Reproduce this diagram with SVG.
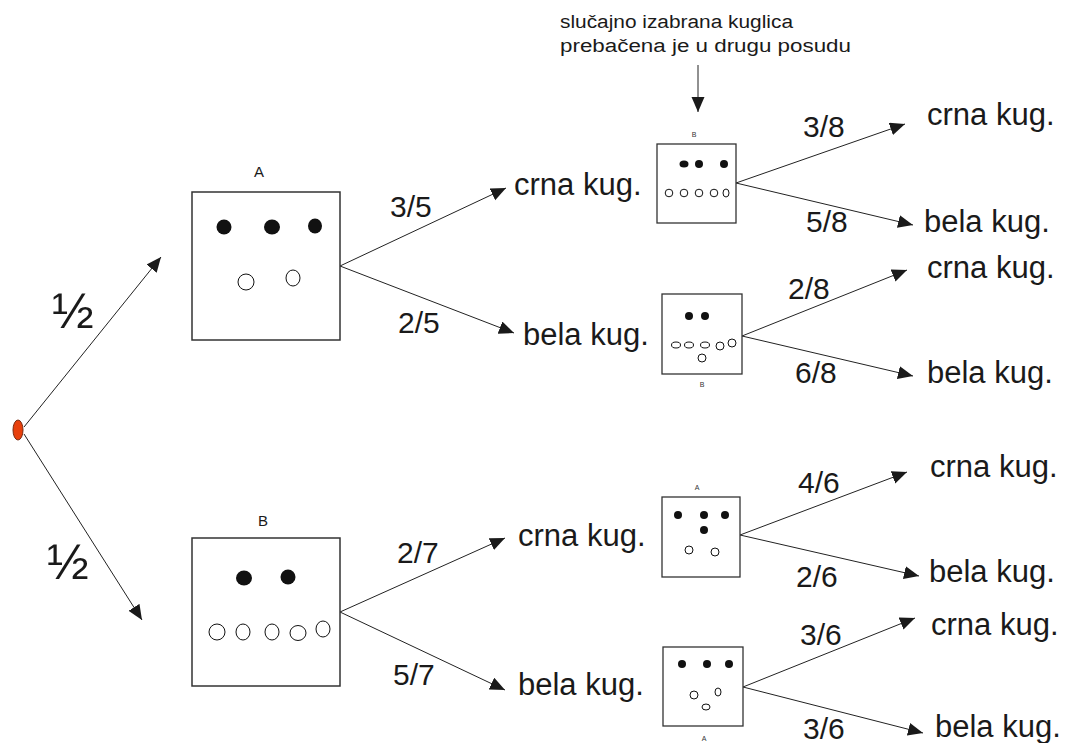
<svg xmlns="http://www.w3.org/2000/svg" width="1065" height="743" viewBox="0 0 1065 743">
<style>
text{font-family:"Liberation Sans",Arial,sans-serif;fill:#1a1a1a}
.lbl{font-size:31px}
.fr{font-size:30px}
.big{fill:none;stroke:#333;stroke-width:1.5}
.sm{fill:none;stroke:#333;stroke-width:1.3}
.blk{fill:#111}
.wht{fill:#fff;stroke:#111;stroke-width:1}
.edge{stroke:#222;stroke-width:1;fill:none;marker-end:url(#ah)}
.bl{font-size:15px}
.sl{font-size:7px;fill:#333}
.note{font-size:18px}
</style>
<defs>
<marker id="ah" markerUnits="userSpaceOnUse" markerWidth="16" markerHeight="14" refX="15" refY="6.5" orient="auto">
<path d="M0,0 L15,6.5 L0,13 Z" fill="#1a1a1a"/>
</marker>
</defs>

<g id="connectors">
<line class="edge" x1="24" y1="427" x2="161" y2="257"/>
<line class="edge" x1="24" y1="434" x2="142" y2="620"/>
<line class="edge" x1="340" y1="266" x2="506" y2="188"/>
<line class="edge" x1="340" y1="266" x2="514" y2="333"/>
<line class="edge" x1="340" y1="612" x2="505" y2="538"/>
<line class="edge" x1="340" y1="612" x2="505" y2="690"/>
<line class="edge" x1="736" y1="183" x2="905" y2="124"/>
<line class="edge" x1="736" y1="183" x2="913" y2="225"/>
<line class="edge" x1="742" y1="336" x2="907" y2="270"/>
<line class="edge" x1="742" y1="336" x2="913" y2="376"/>
<line class="edge" x1="740" y1="535" x2="907" y2="472"/>
<line class="edge" x1="740" y1="535" x2="919" y2="576"/>
<line class="edge" x1="743" y1="687" x2="915" y2="618"/>
<line class="edge" x1="743" y1="687" x2="923" y2="733"/>
<line class="edge" x1="698" y1="65" x2="698" y2="112"/>
</g>

<g id="start">
<ellipse cx="18" cy="430" rx="5" ry="10" fill="#e8400c" stroke="#7a2a10" stroke-width="1"/>
</g>

<g id="prob-labels">
<text x="52" y="328" style="font-size:50px">½</text>
<text x="47" y="579" style="font-size:50px">½</text>
<text class="fr" x="390" y="217">3/5</text>
<text class="fr" x="398" y="333">2/5</text>
<text class="fr" x="397" y="563">2/7</text>
<text class="fr" x="393" y="685">5/7</text>
<text class="fr" x="803" y="137">3/8</text>
<text class="fr" x="806" y="232">5/8</text>
<text class="fr" x="788" y="299">2/8</text>
<text class="fr" x="795" y="383">6/8</text>
<text class="fr" x="798" y="493">4/6</text>
<text class="fr" x="796" y="587">2/6</text>
<text class="fr" x="800" y="645">3/6</text>
<text class="fr" x="803" y="739">3/6</text>
</g>

<g id="note">
<text class="note" x="560" y="28" textLength="233" lengthAdjust="spacingAndGlyphs">slučajno izabrana kuglica</text>
<text class="note" x="560" y="52" textLength="291" lengthAdjust="spacingAndGlyphs">prebačena je u drugu posudu</text>
</g>

<g id="boxA">
<text class="bl" x="259" y="177" text-anchor="middle">A</text>
<rect class="big" x="192" y="192" width="148" height="148"/>
<ellipse class="blk" cx="224" cy="227" rx="7.5" ry="7.5"/>
<ellipse class="blk" cx="272" cy="227" rx="8" ry="7.5"/>
<ellipse class="blk" cx="315" cy="226" rx="7" ry="7.5"/>
<circle class="wht" cx="246" cy="282" r="8"/>
<ellipse class="wht" cx="293" cy="278" rx="7" ry="8"/>
</g>

<g id="boxB">
<text class="bl" x="263" y="526" text-anchor="middle">B</text>
<rect class="big" x="192" y="538" width="148" height="148"/>
<ellipse class="blk" cx="244" cy="578" rx="8" ry="7.5"/>
<ellipse class="blk" cx="288" cy="577" rx="7.5" ry="7.5"/>
<circle class="wht" cx="217" cy="632" r="8"/>
<ellipse class="wht" cx="243" cy="632" rx="7" ry="8"/>
<ellipse class="wht" cx="272" cy="632" rx="7" ry="8"/>
<ellipse class="wht" cx="298" cy="633" rx="8" ry="7.5"/>
<ellipse class="wht" cx="323" cy="629" rx="7" ry="8"/>
</g>

<g id="res-A1">
<text class="lbl" x="514" y="195">crna kug.</text>
<text class="sl" x="694" y="137" text-anchor="middle">B</text>
<rect class="sm" x="657" y="144" width="79" height="79"/>
<ellipse class="blk" cx="684" cy="164" rx="4.5" ry="3.5"/>
<circle class="blk" cx="699" cy="164" r="4"/>
<circle class="blk" cx="724" cy="164" r="4"/>
<circle class="wht" cx="669" cy="193" r="3.8"/>
<circle class="wht" cx="684" cy="193" r="3.8"/>
<circle class="wht" cx="699" cy="193" r="3.8"/>
<circle class="wht" cx="714" cy="193" r="3.8"/>
<ellipse class="wht" cx="726" cy="193" rx="3" ry="4"/>
</g>

<g id="res-A2">
<text class="lbl" x="523" y="345">bela kug.</text>
<rect class="sm" x="662" y="294" width="80" height="80"/>
<text class="sl" x="702" y="387" text-anchor="middle">B</text>
<circle class="blk" cx="689" cy="316" r="4"/>
<circle class="blk" cx="705" cy="316" r="4"/>
<ellipse class="wht" cx="676" cy="345" rx="4.5" ry="3"/>
<ellipse class="wht" cx="689" cy="345" rx="4.5" ry="3"/>
<ellipse class="wht" cx="705" cy="345" rx="4.5" ry="3"/>
<circle class="wht" cx="720" cy="346" r="4"/>
<circle class="wht" cx="732" cy="343" r="4"/>
<circle class="wht" cx="702" cy="358" r="4"/>
</g>

<g id="res-B1">
<text class="lbl" x="518" y="546">crna kug.</text>
<text class="sl" x="697" y="490" text-anchor="middle">A</text>
<rect class="sm" x="662" y="497" width="78" height="80"/>
<circle class="blk" cx="678" cy="515" r="4"/>
<circle class="blk" cx="704" cy="515" r="4"/>
<circle class="blk" cx="725" cy="515" r="4"/>
<circle class="blk" cx="704" cy="530" r="4"/>
<circle class="wht" cx="689" cy="550" r="4"/>
<circle class="wht" cx="715" cy="552" r="4"/>
</g>

<g id="res-B2">
<text class="lbl" x="518" y="695">bela kug.</text>
<rect class="sm" x="663" y="647" width="80" height="79"/>
<text class="sl" x="704" y="741" text-anchor="middle">A</text>
<circle class="blk" cx="682" cy="664" r="4"/>
<circle class="blk" cx="707" cy="664" r="4"/>
<circle class="blk" cx="729" cy="664" r="4"/>
<circle class="wht" cx="694" cy="695" r="4"/>
<ellipse class="wht" cx="718" cy="692" rx="3" ry="4"/>
<ellipse class="wht" cx="706" cy="707" rx="4" ry="3"/>
</g>

<g id="outcomes">
<text class="lbl" x="927" y="125">crna kug.</text>
<text class="lbl" x="924" y="232">bela kug.</text>
<text class="lbl" x="927" y="278">crna kug.</text>
<text class="lbl" x="927" y="383">bela kug.</text>
<text class="lbl" x="930" y="477">crna kug.</text>
<text class="lbl" x="929" y="582">bela kug.</text>
<text class="lbl" x="931" y="635">crna kug.</text>
<text class="lbl" x="935" y="737">bela kug.</text>
</g>
</svg>
